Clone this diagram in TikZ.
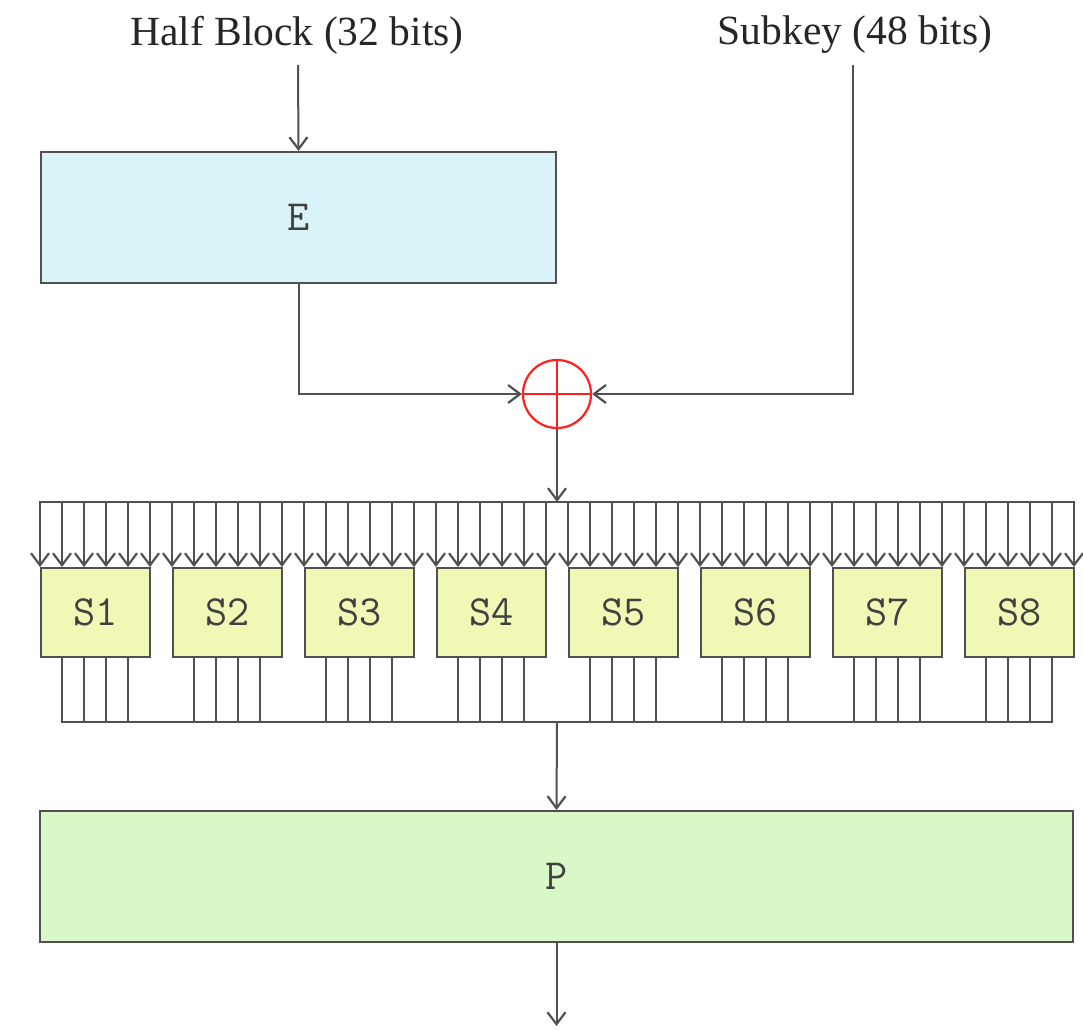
\documentclass[tikz,border=0pt]{standalone}
\usepackage{fontspec}
\setmainfont{Liberation Serif}
\usetikzlibrary{arrows.meta,calc}
\definecolor{ln}{HTML}{505050}
\definecolor{efill}{HTML}{DAF3F8}
\definecolor{sfill}{HTML}{F1F8B6}
\definecolor{pfill}{HTML}{D8F8C8}
\definecolor{xred}{HTML}{FF2020}
\tikzset{
  lbl/.style={font=\fontsize{41.5}{48}\selectfont, text=black!85, inner sep=0pt},
  boxbase/.style={draw=ln, line width=2pt, inner sep=0pt, font=\ttfamily\fontsize{43}{48}\selectfont, text=black!75},
  ebox/.style={boxbase, fill=efill, minimum width=515pt, minimum height=131pt},
  pbox/.style={boxbase, fill=pfill, minimum width=1033pt, minimum height=131pt},
  sbox/.style={boxbase, fill=sfill, minimum width=109pt, minimum height=89pt},
  xorn/.style={circle, draw=xred, line width=2.2pt, minimum size=68pt, inner sep=0pt,
    path picture={\draw[xred, line width=2.2pt] (path picture bounding box.north) -- (path picture bounding box.south)
      (path picture bounding box.west) -- (path picture bounding box.east);}},
  wire/.style={draw=ln, line width=2pt},
  arr/.style={wire, -{Straight Barb[length=12pt,width=18pt,line width=2.2pt]}},
}
\begin{document}
\begin{tikzpicture}[x=1pt,y=-1pt]
\useasboundingbox (0,0) rectangle (1083,1030);
\node[lbl] (hb) at (297,35) {Half Block (32 bits)};
\node[lbl] (sk) at (855,35) {Subkey (48 bits)};
\node[ebox] (E) at (298.5,217.5) {E};
\node[xorn] (x) at (557,394) {};
\node[pbox] (P) at (556.5,876.5) {P};
\coordinate (hbs) at (298,65);
\coordinate (sks) at (853,65);
\draw[arr] (hbs) -- (E.north);
\draw[arr] (sks) |- (x.east);
\draw[arr] (E.south) |- (x.west);
% S boxes
\foreach \i in {1,...,8}{
  \node[sbox] (s\i) at ({95.5+132*(\i-1)},612.5) {S\i};
}
\coordinate (busL) at (41,502);
\coordinate (busR) at (1073,502);
\draw[wire] (busL) -- (busR);
\coordinate (busmid) at (557,502);
\draw[arr] (x.south) -- (busmid);
\foreach \i in {1,...,8}{
  \foreach \j in {0,...,5}{
    \draw[arr] ($(s\i.north west)+(22*\j,-66)$) -- ($(s\i.north west)+(22*\j,0)$);
  }
}
% outputs
\foreach \i in {1,...,8}{
  \foreach \j in {1,...,4}{
    \draw[wire] ($(s\i.south west)+(22*\j,0)$) -- ++(0,65);
  }
}
\coordinate (obL) at (63,722);
\coordinate (obR) at (1053,722);
\draw[wire] (obL) -- (obR);
\coordinate (obmid) at (557,722);
\draw[arr] (obmid) -- (P.north);
\coordinate (pout) at (556.5,1026);
\draw[arr] (P.south) -- (pout);
\end{tikzpicture}
\end{document}
